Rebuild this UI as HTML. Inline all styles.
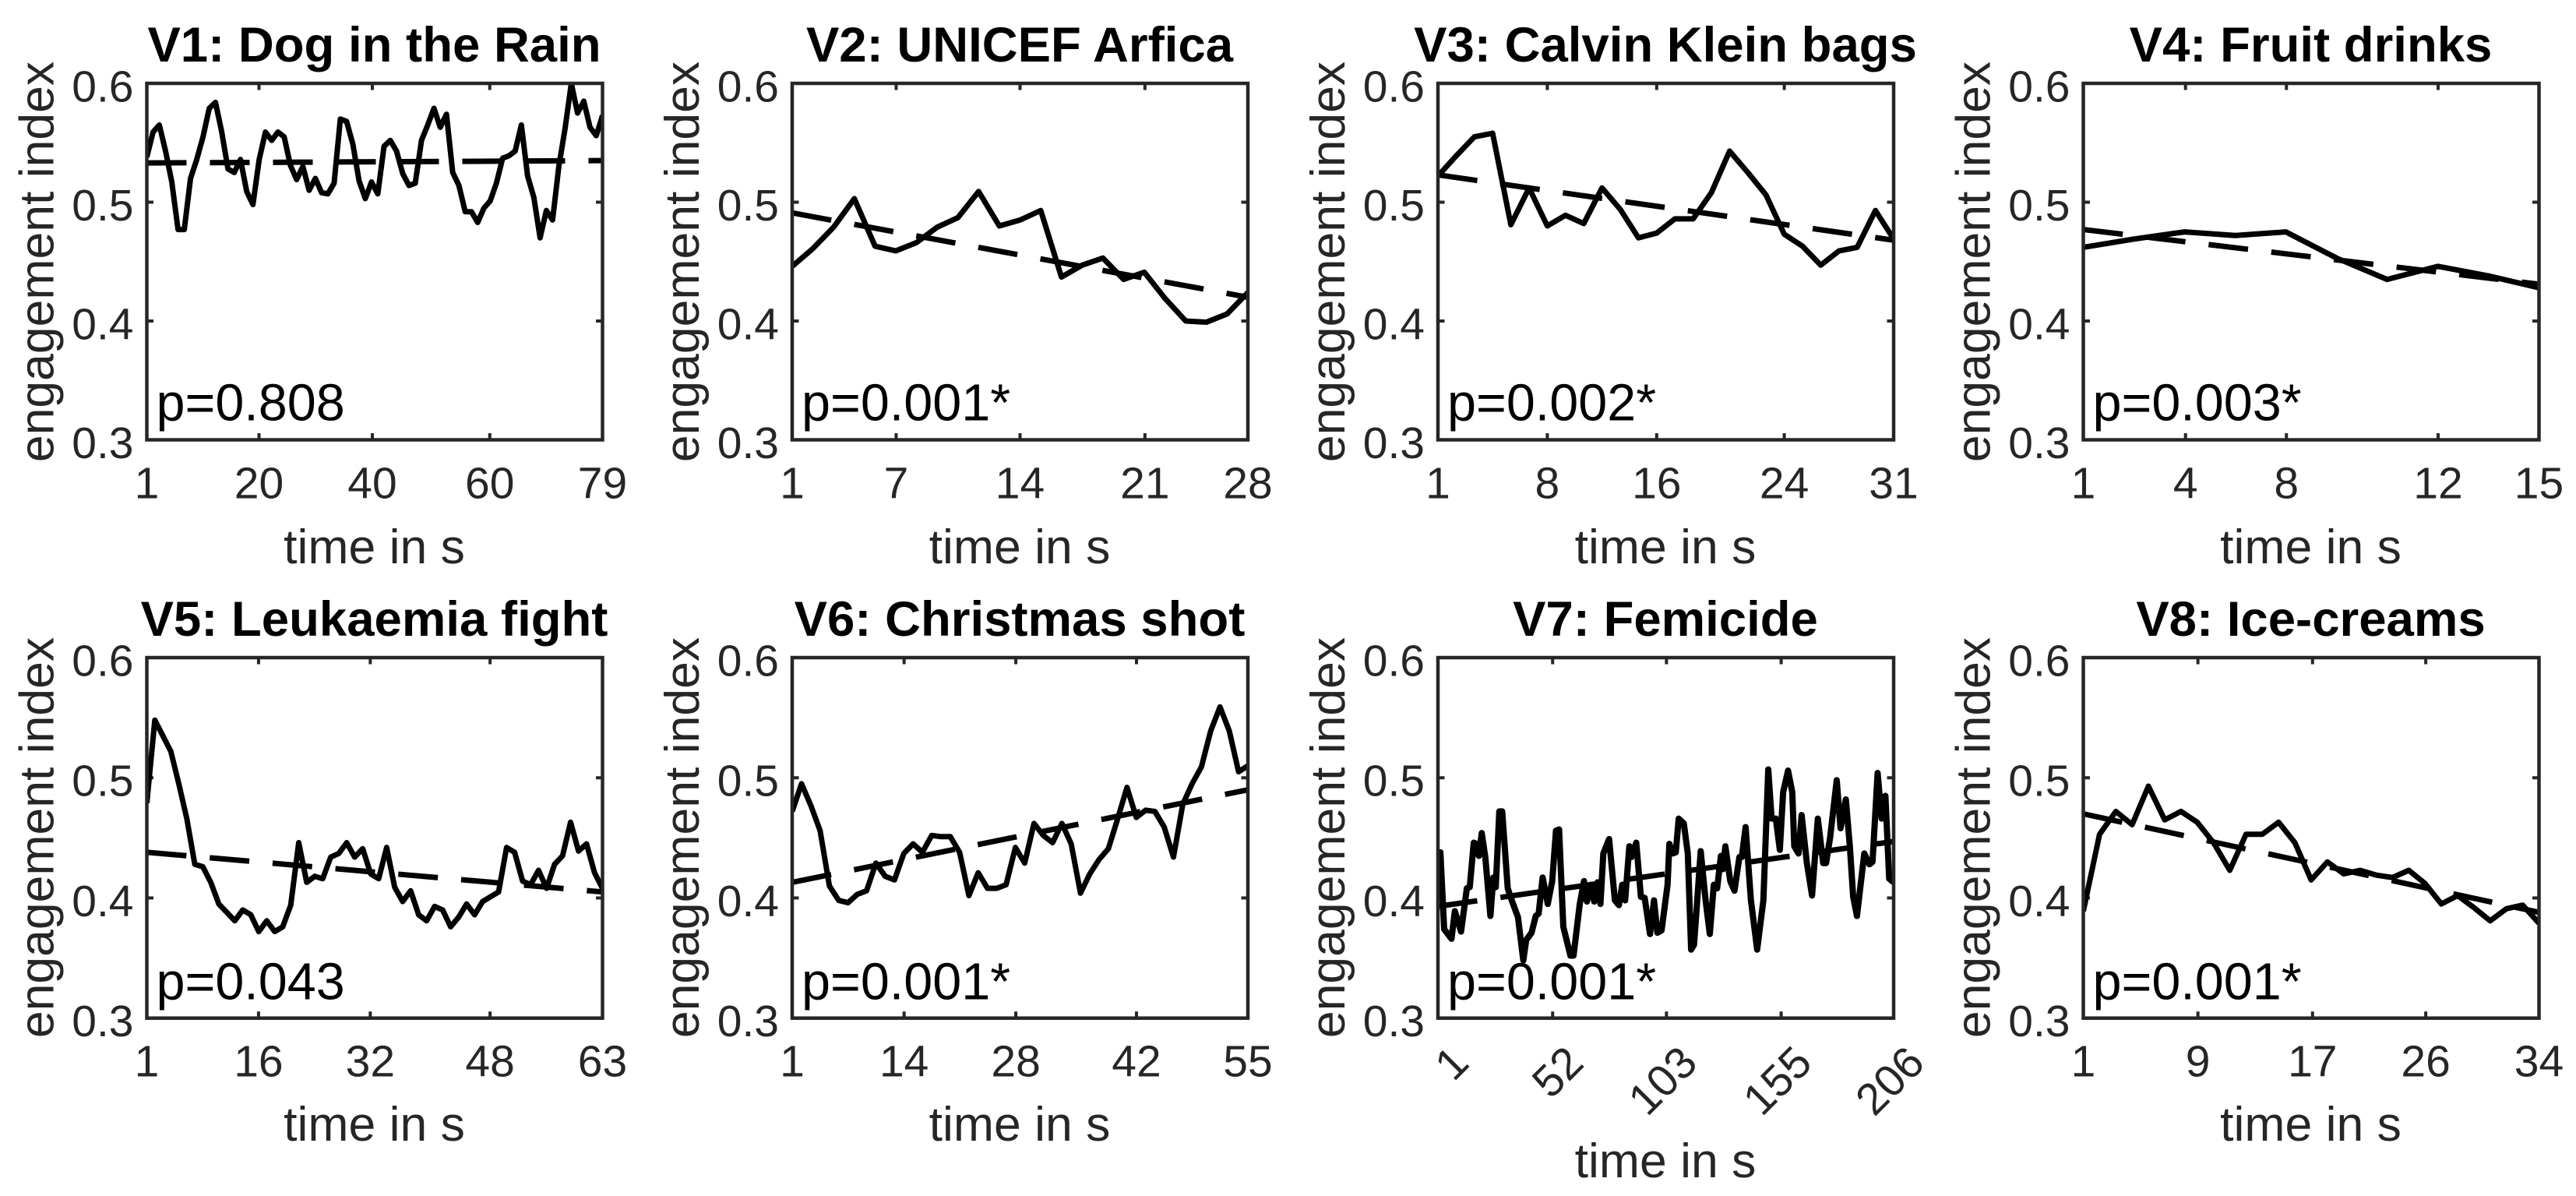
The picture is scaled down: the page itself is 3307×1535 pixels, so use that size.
<!DOCTYPE html>
<html lang="en">
<head>
<meta charset="utf-8">
<title>Engagement index over time for eight videos</title>
<style>
html,body{margin:0;padding:0;background:#fff;}
svg{display:block;}
text{font-family:"Liberation Sans",sans-serif;fill:#262626;}
.title{font-size:63.5px;font-weight:bold;fill:#000;text-anchor:middle;}
.axis-title{font-size:62.5px;text-anchor:middle;}
.tick-label{font-size:57px;}
.p-value{font-size:66.5px;fill:#000;}
</style>
</head>
<body>
<svg id="figure" width="3307" height="1535" viewBox="0 0 3307 1535" xmlns="http://www.w3.org/2000/svg">
  <rect x="0" y="0" width="3307" height="1535" fill="#fff"/>

  <g id="panel-0" transform="translate(188.5,107)">
    <text class="title" x="292" y="-28">V1: Dog in the Rain</text>
    <text class="axis-title" transform="translate(-120,229) rotate(-90)">engagement index</text>
    <text class="axis-title" x="292" y="616">time in s</text>
    <text class="p-value" x="12" y="432.5">p=0.808</text>
  </g>
  <g id="panel-1" transform="translate(1017,107)">
    <text class="title" x="292" y="-28">V2: UNICEF Arfica</text>
    <text class="axis-title" transform="translate(-120,229) rotate(-90)">engagement index</text>
    <text class="axis-title" x="292" y="616">time in s</text>
    <text class="p-value" x="12" y="432.5">p=0.001*</text>
  </g>
  <g id="panel-2" transform="translate(1846,107)">
    <text class="title" x="292" y="-28">V3: Calvin Klein bags</text>
    <text class="axis-title" transform="translate(-120,229) rotate(-90)">engagement index</text>
    <text class="axis-title" x="292" y="616">time in s</text>
    <text class="p-value" x="12" y="432.5">p=0.002*</text>
  </g>
  <g id="panel-3" transform="translate(2674.5,107)">
    <text class="title" x="292" y="-28">V4: Fruit drinks</text>
    <text class="axis-title" transform="translate(-120,229) rotate(-90)">engagement index</text>
    <text class="axis-title" x="292" y="616">time in s</text>
    <text class="p-value" x="12" y="432.5">p=0.003*</text>
  </g>
  <g id="panel-4" transform="translate(188.5,844)">
    <text class="title" x="292" y="-28">V5: Leukaemia fight</text>
    <text class="axis-title" transform="translate(-120,231) rotate(-90)">engagement index</text>
    <text class="axis-title" x="292" y="620">time in s</text>
    <text class="p-value" x="12" y="438.5">p=0.043</text>
  </g>
  <g id="panel-5" transform="translate(1017,844)">
    <text class="title" x="292" y="-28">V6: Christmas shot</text>
    <text class="axis-title" transform="translate(-120,231) rotate(-90)">engagement index</text>
    <text class="axis-title" x="292" y="620">time in s</text>
    <text class="p-value" x="12" y="438.5">p=0.001*</text>
  </g>
  <g id="panel-6" transform="translate(1846,844)">
    <text class="title" x="292" y="-28">V7: Femicide</text>
    <text class="axis-title" transform="translate(-120,231) rotate(-90)">engagement index</text>
    <text class="axis-title" x="292" y="667">time in s</text>
    <text class="p-value" x="12" y="438.5">p=0.001*</text>
  </g>
  <g id="panel-7" transform="translate(2674.5,844)">
    <text class="title" x="292" y="-28">V8: Ice-creams</text>
    <text class="axis-title" transform="translate(-120,231) rotate(-90)">engagement index</text>
    <text class="axis-title" x="292" y="620">time in s</text>
    <text class="p-value" x="12" y="438.5">p=0.001*</text>
  </g>
</svg>

<script>
// ---- shared y axis ----
const yTickValues = [0.3, 0.4, 0.5, 0.6];
const yTickLabels = ['0.3', '0.4', '0.5', '0.6'];

// ---- V1 ----
const v1Duration = 79;
const v1XTicks = [1, 20.2, 39.6, 59.7, 79];
const v1XLabels = ['1', '20', '40', '60', '79'];
const v1Trend = [0.533, 0.535];
const v1Values = [.538,.559,.565,.543,.517,.477,.477,.520,.536,.555,.579,.584,.559,.528,.525,.536,.509,.498,.536,.559,.552,.559,.555,.531,.519,.530,.510,.520,.508,.507,.516,.570,.568,.549,.518,.503,.517,.507,.547,.552,.543,.524,.514,.516,.552,.565,.579,.563,.574,.525,.514,.492,.492,.483,.495,.501,.516,.537,.539,.543,.565,.522,.504,.470,.493,.485,.530,.562,.600,.575,.585,.563,.556,.573];

// ---- V2 ----
const v2Duration = 28;
const v2XTicks = [1, 7.16, 14.5, 21.9, 28];
const v2XLabels = ['1', '7', '14', '21', '28'];
const v2Trend = [0.491, 0.420];
const v2Values = [.446,.461,.479,.503,.463,.459,.466,.479,.487,.509,.480,.485,.493,.437,.447,.453,.435,.441,.419,.400,.399,.406,.424];

// ---- V3 ----
const v3Duration = 31;
const v3XTicks = [1, 8.2, 15.4, 23.8, 31];
const v3XLabels = ['1', '8', '16', '24', '31'];
const v3Trend = [0.523, 0.468];
const v3Values = [.522,.539,.555,.558,.481,.512,.480,.489,.482,.512,.494,.470,.474,.486,.486,.508,.543,.525,.506,.473,.463,.447,.459,.462,.493,.469];

// ---- V4 ----
const v4Duration = 15;
const v4XTicks = [1, 4.14, 7.24, 11.9, 15];
const v4XLabels = ['1', '4', '8', '12', '15'];
const v4Trend = [0.477, 0.431];
const v4Values = [.462,.469,.475,.472,.475,.453,.435,.446,.438,.428];

// ---- V5 ----
const v5Duration = 63;
const v5XTicks = [1, 16.2, 31.4, 47.7, 63];
const v5XLabels = ['1', '16', '32', '48', '63'];
const v5Trend = [0.438, 0.405];
const v5Values = [.479,.548,.535,.522,.495,.466,.428,.426,.413,.395,.388,.381,.390,.386,.372,.381,.372,.376,.394,.446,.413,.418,.416,.434,.437,.446,.434,.441,.420,.416,.442,.409,.397,.406,.386,.381,.393,.390,.376,.384,.395,.386,.397,.401,.405,.442,.438,.414,.411,.423,.408,.428,.435,.463,.439,.445,.421,.408];

// ---- V6 ----
const v6Duration = 55;
const v6XTicks = [1, 14.26, 27.5, 41.8, 55];
const v6XLabels = ['1', '14', '28', '42', '55'];
const v6Trend = [0.413, 0.490];
const v6Values = [.472,.495,.477,.456,.410,.398,.396,.403,.406,.429,.418,.415,.437,.445,.438,.452,.451,.451,.438,.402,.421,.408,.408,.411,.442,.429,.462,.452,.446,.462,.445,.404,.420,.432,.441,.466,.492,.467,.473,.472,.459,.434,.478,.495,.509,.539,.559,.539,.505,.510];

// ---- V7 (time stamps of the readable peaks and valleys) ----
const v7Duration = 206;
const v7XTicks = [1, 52.6, 103.8, 155.4, 206];
const v7XLabels = ['1', '52', '103', '155', '206'];
const v7Trend = [0.393, 0.447];
const v7Time = [1,2.1,3.8,7.1,8.6,11.4,14,15.3,17.1,18.4,19.4,20.7,22.3,24.6,25.9,27,28.6,29.9,32.4,34.2,37,39.4,40.7,43.1,45,46.3,48.1,50.4,52.4,54.1,55.5,57.4,60.6,62,64.8,66.7,68,69.8,71.3,72.8,74.1,75.4,78,80.6,82.4,83.9,85.2,87.1,88,90.2,92.3,94,96.4,98.2,99.7,101.6,104.3,105.1,106.6,108,109.3,111.6,113.4,114.9,116.2,117.3,119.2,121.4,123.3,125.1,126.6,128.3,129.2,130.3,132.5,134.4,136.6,137.7,139.4,141.8,144.6,147.4,149.6,151.1,153,154.8,156.3,158.5,160.4,161.3,163.2,164.6,166.9,169.3,171.9,174.3,175.6,177.4,180.4,182.1,184.5,186.3,187.8,189.5,192.8,195.1,196.5,198.8,200.6,202.3,204,206];
const v7Values = [.406,.438,.374,.366,.389,.372,.408,.409,.446,.445,.435,.454,.434,.385,.417,.409,.472,.472,.408,.398,.384,.348,.365,.371,.385,.387,.417,.395,.414,.456,.457,.376,.352,.352,.395,.414,.397,.411,.397,.413,.395,.437,.449,.398,.394,.411,.398,.443,.434,.446,.401,.400,.370,.398,.371,.373,.411,.445,.437,.438,.466,.462,.437,.357,.361,.389,.439,.398,.370,.411,.408,.435,.424,.443,.414,.406,.434,.434,.459,.398,.357,.398,.507,.466,.466,.440,.488,.506,.488,.443,.437,.469,.430,.402,.466,.429,.429,.450,.498,.458,.482,.443,.401,.385,.437,.428,.430,.504,.466,.485,.416,.413];

// ---- V8 ----
const v8Duration = 34;
const v8XTicks = [1, 9.3, 17.6, 25.8, 34];
const v8XLabels = ['1', '9', '17', '26', '34'];
const v8Trend = [0.470, 0.388];
const v8Values = [.389,.453,.472,.461,.493,.465,.472,.463,.446,.423,.453,.453,.463,.446,.415,.430,.420,.423,.419,.417,.423,.412,.395,.402,.392,.381,.391,.394,.379];

const panels = [
  {duration: v1Duration, xTicks: v1XTicks, xLabels: v1XLabels, trend: v1Trend, values: v1Values},
  {duration: v2Duration, xTicks: v2XTicks, xLabels: v2XLabels, trend: v2Trend, values: v2Values},
  {duration: v3Duration, xTicks: v3XTicks, xLabels: v3XLabels, trend: v3Trend, values: v3Values},
  {duration: v4Duration, xTicks: v4XTicks, xLabels: v4XLabels, trend: v4Trend, values: v4Values},
  {duration: v5Duration, xTicks: v5XTicks, xLabels: v5XLabels, trend: v5Trend, values: v5Values},
  {duration: v6Duration, xTicks: v6XTicks, xLabels: v6XLabels, trend: v6Trend, values: v6Values},
  {duration: v7Duration, xTicks: v7XTicks, xLabels: v7XLabels, trend: v7Trend, values: v7Values, time: v7Time, rotated: true},
  {duration: v8Duration, xTicks: v8XTicks, xLabels: v8XLabels, trend: v8Trend, values: v8Values}
];

const SVGNS = 'http://www.w3.org/2000/svg';
const plotWidth = 585;
const plotHeights = [457.5, 457.5, 457.5, 457.5, 462.7, 462.7, 462.7, 462.7];
const axisColor = '#262626';
const tickLength = 8.5;

function make(tag, attrs) {
  const el = document.createElementNS(SVGNS, tag);
  for (const key in attrs) el.setAttribute(key, attrs[key]);
  return el;
}

panels.forEach(function (panel, index) {
  const group = document.getElementById('panel-' + index);
  const height = plotHeights[index];
  const xScale = function (t) { return (t - 1) / (panel.duration - 1) * plotWidth; };
  const yScale = function (v) { return (0.6 - v) / 0.3 * height; };

  // clip region
  const clip = make('clipPath', {id: 'clip-' + index});
  clip.appendChild(make('rect', {x: -2, y: -2, width: plotWidth + 4, height: height + 4}));
  group.appendChild(clip);

  // y ticks and labels
  yTickValues.forEach(function (value, i) {
    const y = yScale(value);
    const leftTick = make('line', {x1: 0, x2: tickLength, y1: y, y2: y, stroke: axisColor, 'stroke-width': 4});
    
    
    group.appendChild(leftTick);
    const rightTick = make('line', {x1: plotWidth - tickLength, x2: plotWidth, y1: y, y2: y, stroke: axisColor, 'stroke-width': 4});
    
    
    group.appendChild(rightTick);
    const label = make('text', {'class': 'tick-label', x: -17, y: y + 23.5, 'text-anchor': 'end'});
    
    
    label.textContent = yTickLabels[i];
    group.appendChild(label);
  });

  // x ticks and labels
  panel.xTicks.forEach(function (tick, i) {
    const x = xScale(tick);
    const bottomTick = make('line', {x1: x, x2: x, y1: height - tickLength, y2: height, stroke: axisColor, 'stroke-width': 4});
    
    
    group.appendChild(bottomTick);
    const topTick = make('line', {x1: x, x2: x, y1: 0, y2: tickLength, stroke: axisColor, 'stroke-width': 4});
    
    
    group.appendChild(topTick);
    const label = make('text', {'class': 'tick-label'});
    
    
    label.textContent = panel.xLabels[i];
    if (panel.rotated) {
      label.setAttribute('text-anchor', 'end');
      label.setAttribute('dominant-baseline', 'central');
      label.setAttribute('transform', 'translate(' + (x + 29) + ',' + (height + 47) + ') rotate(-45)');
    } else {
      label.setAttribute('text-anchor', 'middle');
      label.setAttribute('x', x);
      label.setAttribute('y', height + 75);
    }
    group.appendChild(label);
  });

  // series line
  const points = panel.values.map(function (value, i) {
    const t = panel.time ? panel.time[i] : 1 + (panel.duration - 1) * i / (panel.values.length - 1);
    return xScale(t).toFixed(2) + ',' + yScale(value).toFixed(2);
  }).join(' ');
  const series = make('polyline', {points: points, fill: 'none', stroke: '#000', 'stroke-width': panel.rotated ? 8 : 7, 'stroke-linejoin': 'round', 'clip-path': 'url(#clip-' + index + ')'});
  
  
  group.appendChild(series);

  // dashed trend line
  const trend = make('line', {x1: xScale(1), y1: yScale(panel.trend[0]), x2: xScale(panel.duration), y2: yScale(panel.trend[1]), stroke: '#000', 'stroke-width': 7, 'stroke-dasharray': '51 30', 'clip-path': 'url(#clip-' + index + ')'});
  
  
  group.appendChild(trend);

  // axes box
  const box = make('rect', {x: 0, y: 0, width: plotWidth, height: height, fill: 'none', stroke: axisColor, 'stroke-width': 4.5});
  
  
  group.appendChild(box);
});
</script>
</body>
</html>
